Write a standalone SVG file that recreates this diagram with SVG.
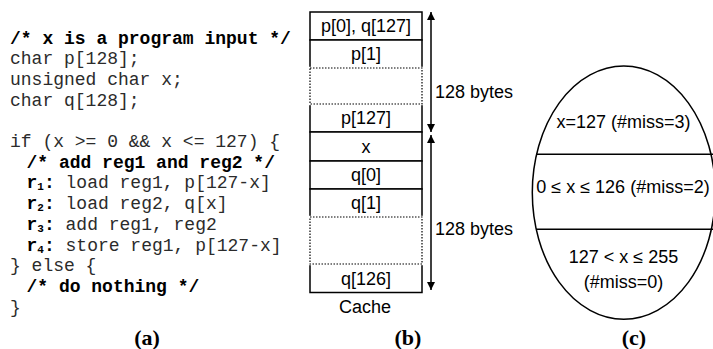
<svg xmlns="http://www.w3.org/2000/svg" width="713" height="349" viewBox="0 0 713 349">
  <defs>
    <style>
      .code { font-family: "Liberation Mono", "Courier New", monospace; font-size: 18px; fill: #2b2b2b; }
      .b { font-weight: bold; fill: #000; }
      .sub { font-size: 11px; font-weight: bold; fill: #000; }
      .sans { font-family: "Liberation Sans", Arial, sans-serif; font-size: 18px; fill: #000; }
      .cap { font-family: "Liberation Serif", "Times New Roman", serif; font-size: 22px; font-weight: bold; fill: #000; text-anchor: middle; }
      .cell { fill: #fff; stroke: #000; stroke-width: 1.5; }
      .gap { fill: #fff; stroke: #000; stroke-width: 1.2; stroke-dasharray: 1.5 1.5; }
      .mid { text-anchor: middle; }
      .dim { stroke: #000; stroke-width: 1.5; fill: none; marker-start: url(#tipUp); marker-end: url(#tipDown); }
    </style>
    <marker id="tipDown" viewBox="0 0 8 8" refX="8" refY="4" markerWidth="8" markerHeight="8" markerUnits="userSpaceOnUse" orient="auto">
      <path d="M0,0 L8,4 L0,8 Z" fill="#000"/>
    </marker>
    <marker id="tipUp" viewBox="0 0 8 8" refX="0" refY="4" markerWidth="8" markerHeight="8" markerUnits="userSpaceOnUse" orient="auto">
      <path d="M8,0 L0,4 L8,8 Z" fill="#000"/>
    </marker>
  </defs>

  <!-- (a) program listing -->
  <g id="code">
    <text class="code b" x="10" y="43.5">/* x is a program input */</text>
    <text class="code" x="10" y="64.2">char p[128];</text>
    <text class="code" x="10" y="84.9">unsigned char x;</text>
    <text class="code" x="10" y="105.6">char q[128];</text>
    <text class="code" x="10" y="147">if (x &gt;= 0 &amp;&amp; x &lt;= 127) {</text>
    <text class="code b" x="26.5" y="167.7">/* add reg1 and reg2 */</text>
    <text class="code" x="26.5" y="188.4"><tspan class="b">r</tspan><tspan class="sub" dy="2">1</tspan><tspan class="b" dy="-2">:</tspan> load reg1, p[127-x]</text>
    <text class="code" x="26.5" y="209.1"><tspan class="b">r</tspan><tspan class="sub" dy="2">2</tspan><tspan class="b" dy="-2">:</tspan> load reg2, q[x]</text>
    <text class="code" x="26.5" y="229.8"><tspan class="b">r</tspan><tspan class="sub" dy="2">3</tspan><tspan class="b" dy="-2">:</tspan> add reg1, reg2</text>
    <text class="code" x="26.5" y="250.5"><tspan class="b">r</tspan><tspan class="sub" dy="2">4</tspan><tspan class="b" dy="-2">:</tspan> store reg1, p[127-x]</text>
    <text class="code" x="10" y="271.2">} else {</text>
    <text class="code b" x="26.5" y="291.9">/* do nothing */</text>
    <text class="code" x="10" y="312.6">}</text>
  </g>

  <!-- (b) cache lines -->
  <g id="cache">
    <g id="line-p0"><rect class="cell" x="310" y="12" width="112" height="28"/><text class="sans mid" x="366" y="32.2">p[0], q[127]</text></g>
    <g id="line-p1"><rect class="cell" x="310" y="40" width="112" height="28"/><text class="sans mid" x="366" y="60.2">p[1]</text></g>
    <g id="line-p127"><rect class="cell" x="310" y="104" width="112" height="28"/><text class="sans mid" x="366" y="124.2">p[127]</text></g>
    <g id="line-x"><rect class="cell" x="310" y="132" width="112" height="29"/><text class="sans mid" x="366" y="152.5">x</text></g>
    <g id="line-q0"><rect class="cell" x="310" y="161" width="112" height="28"/><text class="sans mid" x="366" y="181.2">q[0]</text></g>
    <g id="line-q1"><rect class="cell" x="310" y="189" width="112" height="28"/><text class="sans mid" x="366" y="209.2">q[1]</text></g>
    <g id="line-q126"><rect class="cell" x="310" y="264" width="112" height="28.5"/><text class="sans mid" x="366" y="284.5">q[126]</text></g>
    <!-- elided lines, dotted outline -->
    <g id="gap-p">
      <rect x="309" y="66.8" width="114" height="38.4" fill="#fff"/>
      <rect class="gap" x="310" y="68" width="112" height="36"/>
    </g>
    <g id="gap-q">
      <rect x="309" y="215.8" width="114" height="49.4" fill="#fff"/>
      <rect class="gap" x="310" y="217" width="112" height="47"/>
    </g>
    <text class="sans mid" x="365" y="313">Cache</text>
  </g>

  <!-- size brackets -->
  <g id="connectors">
    <line class="dim" x1="431" y1="12" x2="431" y2="132"/>
    <line class="dim" x1="431" y1="135" x2="431" y2="290"/>
  </g>
  <g id="size-labels">
    <text class="sans" x="435" y="97.5">128 bytes</text>
    <text class="sans" x="435" y="234.5">128 bytes</text>
  </g>

  <!-- (c) input space partition -->
  <g id="partition">
    <ellipse cx="623.8" cy="192.6" rx="91.5" ry="126.6" fill="none" stroke="#000" stroke-width="1.5"/>
    <line x1="536" y1="154.3" x2="713" y2="154.3" stroke="#000" stroke-width="1.5"/>
    <line x1="536" y1="229.3" x2="713" y2="229.3" stroke="#000" stroke-width="1.5"/>
    <text class="sans mid" x="623.5" y="127.5">x=127 (#miss=3)</text>
    <text class="sans mid" x="623" y="192.5">0 ≤ x ≤ 126 (#miss=2)</text>
    <text class="sans mid" x="623.5" y="263">127 &lt; x ≤ 255</text>
    <text class="sans mid" x="623.5" y="287.5">(#miss=0)</text>
  </g>

  <!-- sub-figure captions -->
  <g id="captions">
    <text class="cap" x="147" y="345">(a)</text>
    <text class="cap" x="408" y="345">(b)</text>
    <text class="cap" x="634" y="345">(c)</text>
  </g>
</svg>
